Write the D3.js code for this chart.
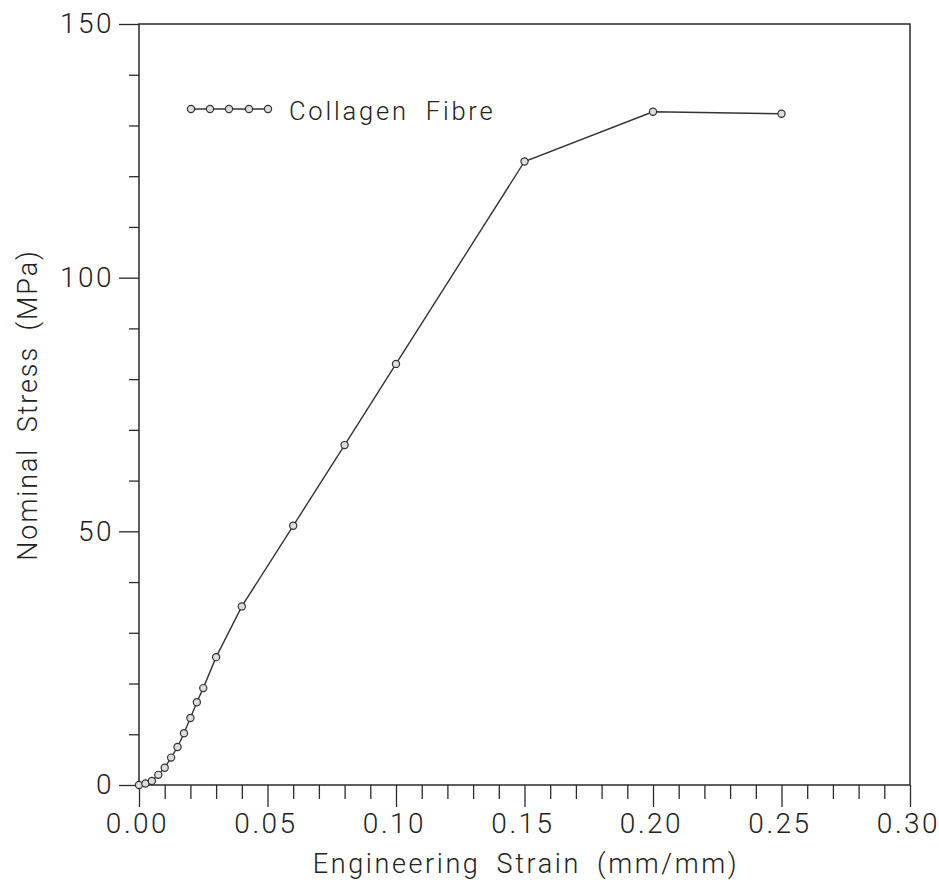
<!DOCTYPE html>
<html>
<head>
<meta charset="utf-8">
<script src="https://cdn.jsdelivr.net/npm/d3@7"></script>
<style>
  body { margin: 0; background: #fff; }
  text { font-family: "Roboto", "DejaVu Sans", sans-serif; font-weight: 300; fill: #222; }
</style>
</head>
<body>
<div id="container"></div>
<script>
// values
const strain = [0, 0.0025, 0.005, 0.0075, 0.01, 0.0125, 0.015, 0.0175, 0.02, 0.0225, 0.025,
                0.03, 0.04, 0.06, 0.08, 0.10, 0.15, 0.20, 0.25];
const stress = [0, 0.3, 0.8, 2.0, 3.4, 5.4, 7.5, 10.2, 13.2, 16.3, 19.1,
                25.2, 35.2, 51.1, 67.0, 83.0, 122.9, 132.7, 132.3];
const xMajorTicks = [0, 0.05, 0.10, 0.15, 0.20, 0.25, 0.30];
const yMajorTicks = [0, 50, 100, 150];
const seriesName = "Collagen Fibre";

const data = strain.map((s, i) => ({ x: s, y: stress[i] }));

const width = 939, height = 888;
const plotLeft = 139, plotRight = 910, plotTop = 24, plotBottom = 785;

let svg = d3.select('#container')
    .append('svg')
    .attr('width', width)
    .attr('height', height);

let x = d3.scaleLinear().domain([0, 0.3]).range([plotLeft, plotRight]);
let y = d3.scaleLinear().domain([0, 150]).range([plotBottom, plotTop]);

let ink = '#2a2a2a';

// minor ticks every 0.01 / 10 MPa
let xMinor = d3.range(0, 31).map(i => i / 100).filter(v => !xMajorTicks.some(m => Math.abs(m - v) < 1e-9));
let yMinor = d3.range(0, 16).map(i => i * 10).filter(v => !yMajorTicks.includes(v));

svg.append('g')
    .attr('transform', `translate(0,${plotBottom})`)
    .call(d3.axisBottom(x).tickValues(xMinor).tickSize(14).tickFormat(''))
    .call(g => g.select('.domain').remove());

let xAxis = svg.append('g')
    .attr('transform', `translate(0,${plotBottom})`)
    .call(d3.axisBottom(x).tickValues(xMajorTicks).tickSize(22).tickPadding(6).tickFormat(d3.format('.2f')))
    .call(g => g.select('.domain').remove());

svg.append('g')
    .attr('transform', `translate(${plotLeft},0)`)
    .call(d3.axisLeft(y).tickValues(yMinor).tickSize(10).tickFormat(''))
    .call(g => g.select('.domain').remove());

let yAxis = svg.append('g')
    .attr('transform', `translate(${plotLeft},0)`)
    .call(d3.axisLeft(y).tickValues(yMajorTicks).tickSize(20).tickPadding(7).tickFormat(d3.format('d')))
    .call(g => g.select('.domain').remove());

svg.selectAll('.tick line').attr('stroke', ink).attr('stroke-width', 1.3);
svg.selectAll('.tick text')
    .attr('font-size', 28)
    .attr('font-family', null)
    .attr('letter-spacing', 2.5)
    .style('fill', '#222');
xAxis.selectAll('.tick text').attr('dx', -2);
yAxis.selectAll('.tick text').attr('dx', 2);

// frame
svg.append('rect')
    .attr('x', plotLeft).attr('y', plotTop)
    .attr('width', plotRight - plotLeft).attr('height', plotBottom - plotTop)
    .attr('fill', 'none')
    .attr('stroke', ink)
    .attr('stroke-width', 1.5);

// curve
svg.append('path')
    .datum(data)
    .attr('fill', 'none')
    .attr('stroke', '#333')
    .attr('stroke-width', 1.4)
    .attr('d', d3.line().x(d => x(d.x)).y(d => y(d.y)));

svg.selectAll('circle.pt')
    .data(data)
    .enter()
    .append('circle')
    .attr('class', 'pt')
    .attr('cx', d => x(d.x))
    .attr('cy', d => y(d.y))
    .attr('r', 3.6)
    .attr('fill', '#ddd')
    .attr('stroke', '#333')
    .attr('stroke-width', 1.2);

// legend
let legendX = [191, 210, 229, 249, 268];
let legendY = 109;
svg.append('line')
    .attr('x1', legendX[0]).attr('x2', legendX[4])
    .attr('y1', legendY).attr('y2', legendY)
    .attr('stroke', '#333').attr('stroke-width', 1.4);
svg.selectAll('circle.lg')
    .data(legendX)
    .enter()
    .append('circle')
    .attr('class', 'lg')
    .attr('cx', d => d)
    .attr('cy', legendY)
    .attr('r', 3.6)
    .attr('fill', '#ddd')
    .attr('stroke', '#333')
    .attr('stroke-width', 1.2);
svg.append('text')
    .attr('x', 289)
    .attr('y', 120)
    .attr('font-size', 25.5)
    .attr('letter-spacing', 2.8)
    .attr('word-spacing', 8)
    .text(seriesName);

// axis titles
svg.append('text')
    .attr('x', 526)
    .attr('y', 873)
    .attr('text-anchor', 'middle')
    .attr('font-size', 27)
    .attr('letter-spacing', 2.6)
    .attr('word-spacing', 7)
    .text('Engineering Strain (mm/mm)');

svg.append('text')
    .attr('transform', `translate(37,405) rotate(-90)`)
    .attr('text-anchor', 'middle')
    .attr('font-size', 27)
    .attr('letter-spacing', 1.9)
    .attr('word-spacing', 7)
    .text('Nominal Stress (MPa)');
</script>
</body>
</html>
